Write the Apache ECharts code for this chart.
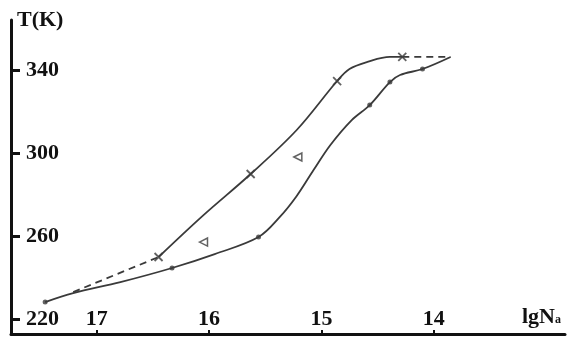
<!DOCTYPE html>
<html>
<head>
<meta charset="utf-8">
<script src="https://cdn.jsdelivr.net/npm/echarts@6/dist/echarts.min.js"></script>
<style>
html,body{margin:0;padding:0;background:#fff;}
#c{width:568px;height:338px;}
</style>
</head>
<body>
<div id="c"></div>
<script>
// Tick labels
var xTicks = [17, 16, 15, 14];
var yTicks = [220, 260, 300, 340];

// Lower curve (solid) and its measured points (dots)
var lowerCurveN = [17.46, 17.21, 16.79, 16.33, 15.95, 15.56, 15.37, 15.22, 15.07, 14.92, 14.73, 14.57, 14.39, 14.30, 14.10, 13.85];
var lowerCurveT = [228.2, 232.5, 237.8, 244.6, 251.3, 259.5, 269.2, 279.3, 291.8, 303.9, 315.9, 323.1, 334.2, 337.6, 340.5, 346.3];
var lowerPtsN = [17.46, 16.33, 15.56, 14.57, 14.39, 14.10];
var lowerPtsT = [228.2, 244.6, 259.5, 323.1, 334.2, 340.5];

// Upper curve: dashed start, solid middle, dashed end; measured points (x)
var upperDashAN = [17.21, 16.45];
var upperDashAT = [233.0, 249.9];
var upperSolidN = [16.45, 16.05, 15.63, 15.22, 14.86, 14.75, 14.59, 14.39, 14.28];
var upperSolidT = [249.9, 270.1, 289.9, 311.1, 334.7, 340.5, 343.9, 346.3, 346.3];
var upperDashBN = [14.28, 13.85];
var upperDashBT = [346.3, 346.3];
var upperPtsN = [16.45, 15.63, 14.86, 14.28];
var upperPtsT = [249.9, 289.9, 334.7, 346.3];

// Triangles
var triN = [16.05, 15.21];
var triT = [257.1, 298.1];

function pairs(a, b) { return a.map(function (v, i) { return [v, b[i]]; }); }

var lineColor = '#3a3a3a';
var font = 'Liberation Serif';
var chart = echarts.init(document.getElementById('c'), null, {renderer: 'canvas'});
chart.setOption({
  backgroundColor: '#ffffff',
  animation: false,
  grid: {left: 11, right: 3, top: 20, bottom: 4, containLabel: false, outerBoundsMode: 'none'},
  xAxis: {
    type: 'value', inverse: true, min: 12.831, max: 17.764,
    name: 'lgN{s|a}', nameLocation: 'start', nameGap: -4,
    nameTextStyle: {
      fontFamily: font, fontWeight: 'bold', fontSize: 22, color: '#111',
      align: 'right', verticalAlign: 'bottom', padding: [0, 0, 6, 0],
      rich: {s: {fontFamily: font, fontWeight: 'bold', fontSize: 12, color: '#111', padding: [6, 0, 0, 0]}}
    },
    axisLine: {show: true, onZero: false, lineStyle: {color: '#111', width: 3}},
    axisTick: {show: true, inside: true, length: 4, customValues: xTicks, lineStyle: {color: '#111', width: 2}},
    axisLabel: {show: true, inside: true, margin: 4, customValues: xTicks,
      fontFamily: font, fontWeight: 'bold', fontSize: 22, color: '#111'},
    splitLine: {show: false}
  },
  yAxis: {
    type: 'value', min: 212.8, max: 364.1,
    name: 'T(K)', nameLocation: 'end', nameGap: 0,
    nameTextStyle: {
      fontFamily: font, fontWeight: 'bold', fontSize: 22, color: '#111',
      align: 'left', verticalAlign: 'middle', padding: [0, 0, 0, 6]
    },
    axisLine: {show: true, onZero: false, lineStyle: {color: '#111', width: 3}},
    axisTick: {show: true, inside: true, length: 9, customValues: yTicks, lineStyle: {color: '#111', width: 3}},
    axisLabel: {show: true, inside: true, margin: 15, customValues: yTicks,
      fontFamily: font, fontWeight: 'bold', fontSize: 22, color: '#111'},
    splitLine: {show: false}
  },
  series: [
    {type: 'line', data: pairs(lowerCurveN, lowerCurveT), smooth: 0.35, symbol: 'none',
      lineStyle: {color: lineColor, width: 1.8}},
    {type: 'scatter', data: pairs(lowerPtsN, lowerPtsT), symbol: 'circle', symbolSize: 5,
      itemStyle: {color: lineColor}},
    {type: 'line', data: pairs(upperDashAN, upperDashAT), symbol: 'none',
      lineStyle: {color: lineColor, width: 1.8, type: [7, 5]}},
    {type: 'line', data: pairs(upperSolidN, upperSolidT), smooth: 0.35, symbol: 'none',
      lineStyle: {color: lineColor, width: 1.8}},
    {type: 'line', data: pairs(upperDashBN, upperDashBT), symbol: 'none',
      lineStyle: {color: lineColor, width: 1.8, type: [7, 5]}},
    {type: 'scatter', data: pairs(upperPtsN, upperPtsT), symbol: 'path://M0,0L10,10M10,0L0,10', symbolSize: 8,
      itemStyle: {color: 'none', borderColor: lineColor, borderWidth: 1.8}},
    {type: 'scatter', data: pairs(triN, triT), symbol: 'triangle', symbolSize: 8, symbolRotate: 90,
      itemStyle: {color: '#fff', borderColor: lineColor, borderWidth: 1.5}}
  ]
});
</script>
</body>
</html>
